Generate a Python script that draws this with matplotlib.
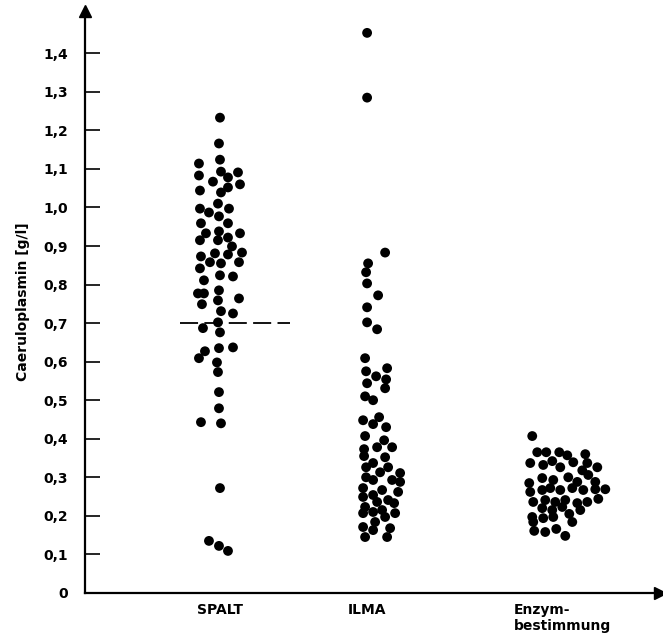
import matplotlib
matplotlib.use('Agg')
import matplotlib.pyplot as plt
import numpy as np

groups = ['SPALT', 'ILMA', 'Enzym-\nbestimmung']
positions = [1.35, 2.82, 4.77]

# horizontal scatter offsets (jitter) and caeruloplasmin values [g/l]
spalt_dx = [0, -0.01, 0, -0.21, 0.01, 0.18, -0.21, 0.08, -0.07, 0.20, 0.08, -0.20, 0.01,
            -0.02, -0.20, -0.11, 0.09, -0.01, -0.19, 0.08, -0.14, -0.01, 0.20, -0.20, -0.02,
            0.08, 0.12, -0.19, -0.05, 0.08, 0.22, -0.10, 0.01, 0.19, -0.20, 0, -0.16, 0.13,
            -0.22, -0.16, -0.01, -0.18, -0.02, 0.19, 0.01, 0.13, -0.02, -0.17, 0, 0.13, -0.01,
            -0.15, -0.21, -0.03, -0.02, -0.01, -0.01, -0.19, 0.01, 0, -0.11, -0.01, 0.08]
spalt_val = [1.233, 1.166, 1.124, 1.114, 1.093, 1.091, 1.083, 1.078, 1.067, 1.060, 1.052, 1.044, 1.039,
             1.010, 0.997, 0.987, 0.997, 0.977, 0.959, 0.959, 0.933, 0.938, 0.933, 0.915, 0.915,
             0.922, 0.899, 0.873, 0.881, 0.878, 0.883, 0.858, 0.855, 0.858, 0.842, 0.824, 0.811, 0.821,
             0.777, 0.777, 0.785, 0.749, 0.759, 0.764, 0.731, 0.725, 0.702, 0.687, 0.676, 0.637, 0.635,
             0.627, 0.609, 0.598, 0.573, 0.521, 0.479, 0.443, 0.440, 0.272, 0.135, 0.122, 0.109]

ilma_dx = [0, 0, 0.18, 0.01, -0.01, 0, 0.11, 0, 0, 0.10, -0.02, -0.01, 0.09, 0.20, 0.19,
           0, 0.18, -0.02, 0.06, -0.04, 0.06, 0.12, 0.19, -0.02, 0.17, 0.25, -0.03, 0.10,
           -0.03, 0.18, 0.06, -0.01, 0.21, 0.33, 0.13, -0.01, 0.06, 0.25, 0.33, -0.04, 0.15,
           0.31, 0.06, -0.04, 0.21, 0.10, 0.27, -0.02, 0.15, 0.28, -0.04, 0.06, 0.18, 0.08,
           -0.04, 0.23, 0.06, -0.02, 0.20]
ilma_val = [1.453, 1.285, 0.883, 0.855, 0.832, 0.803, 0.772, 0.741, 0.702, 0.684, 0.609, 0.575, 0.562, 0.583, 0.554,
            0.544, 0.531, 0.510, 0.500, 0.448, 0.438, 0.456, 0.430, 0.407, 0.396, 0.378, 0.373, 0.378,
            0.355, 0.352, 0.337, 0.326, 0.326, 0.311, 0.313, 0.300, 0.293, 0.293, 0.288, 0.272, 0.267,
            0.262, 0.254, 0.249, 0.241, 0.236, 0.233, 0.223, 0.215, 0.207, 0.207, 0.210, 0.197, 0.184,
            0.171, 0.168, 0.163, 0.145, 0.145]

enzym_dx = [-0.30, -0.25, -0.16, -0.03, 0.05, 0.23, -0.32, -0.19, -0.10, -0.02, 0.11, 0.25, 0.35,
            -0.20, -0.09, 0.06, 0.15, 0.26, 0.33, -0.33, -0.32, -0.20, -0.12, -0.02, 0.10, 0.21,
            0.33, 0.43, -0.29, -0.17, -0.07, 0.03, 0.15, 0.25, 0.36, -0.20, -0.10, 0, 0.18, -0.30,
            -0.19, -0.09, 0.10, -0.29, -0.28, -0.17, -0.06, 0.03, 0.07, 0.20]
enzym_val = [0.407, 0.365, 0.365, 0.365, 0.357, 0.360, 0.337, 0.332, 0.342, 0.326, 0.339, 0.337, 0.326,
             0.298, 0.293, 0.300, 0.288, 0.306, 0.288, 0.285, 0.262, 0.267, 0.272, 0.267, 0.272, 0.267,
             0.269, 0.269, 0.236, 0.241, 0.236, 0.241, 0.233, 0.236, 0.244, 0.220, 0.215, 0.223, 0.215, 0.197,
             0.194, 0.197, 0.184, 0.184, 0.161, 0.158, 0.166, 0.148, 0.205, 0.318]

spalt_ref = 0.7  # dashed line for SPALT

yticks = np.arange(0, 1.41, 0.1)
ytick_labels = ['0'] + ['%.1f' % v for v in yticks[1:]]
ytick_labels = [s.replace('.', ',') for s in ytick_labels]

fig = plt.figure(figsize=(6.63, 6.41), dpi=100)
ax = fig.add_axes([0.128, 0.075, 0.868, 0.908])

for p, dx, vals in zip(positions, [spalt_dx, ilma_dx, enzym_dx], [spalt_val, ilma_val, enzym_val]):
    ax.scatter(p + np.array(dx), vals, s=50, color='black', edgecolors='none', zorder=3)

ax.plot([positions[0] - 0.40, positions[0] + 0.70], [spalt_ref, spalt_ref],
        color='black', lw=1.3, dashes=(10, 3.5))

ax.set_xlim(0, 5.75)
ax.set_ylim(0, 1.51)
for side in ['top', 'right']:
    ax.spines[side].set_visible(False)
for side in ['left', 'bottom']:
    ax.spines[side].set_linewidth(1.6)

# arrow heads on the axes
ax.plot(0, 1, marker='^', ms=8, color='black', transform=ax.transAxes, clip_on=False)
ax.plot(1, 0, marker='>', ms=8, color='black', transform=ax.transAxes, clip_on=False)

ax.set_yticks(yticks)
ax.set_yticklabels(ytick_labels, fontsize=10, fontweight='bold')
ax.tick_params(axis='y', direction='in', length=11, width=1.2, pad=12)

ax.set_xticks(positions)
ax.set_xticklabels(groups, fontsize=10, fontweight='bold', multialignment='left', va='top')
ax.tick_params(axis='x', length=0, pad=7)

ax.set_ylabel('Caeruloplasmin [g/l]', fontsize=10, fontweight='bold', labelpad=10)

fig.savefig('out.png', dpi=100)
